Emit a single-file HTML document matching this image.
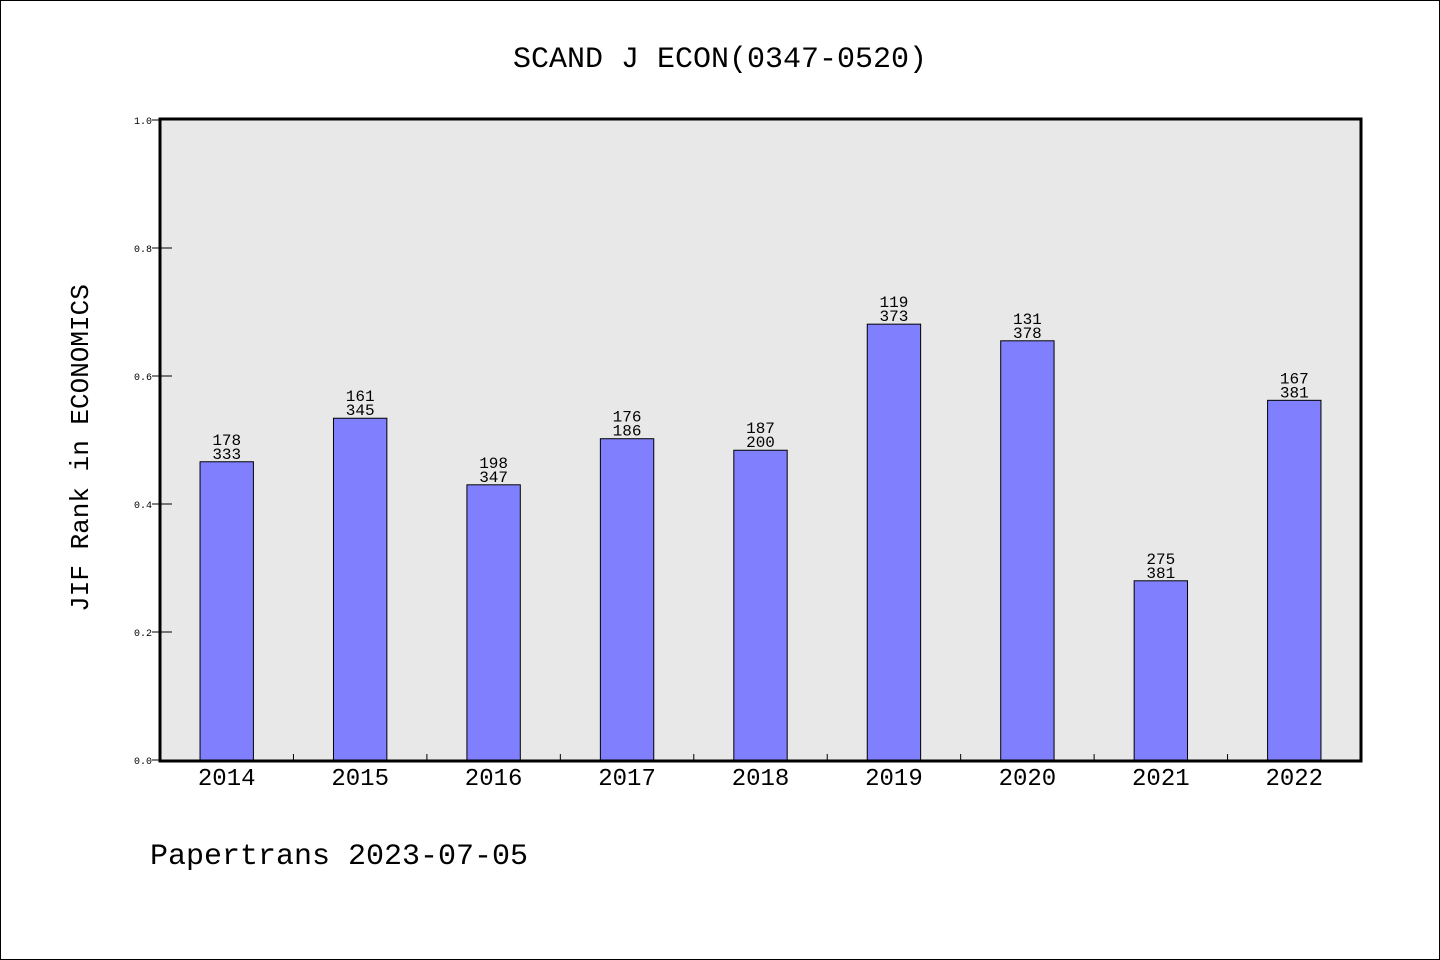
<!DOCTYPE html>
<html><head><meta charset="utf-8"><style>
html,body{margin:0;padding:0;background:#fff}
svg{display:block}
text{font-family:"Liberation Mono","WenQuanYi Zen Hei",monospace;fill:#000}
</style></head><body>
<svg id="chart" width="1440" height="960" xmlns="http://www.w3.org/2000/svg">
<rect x="0.5" y="0.5" width="1439" height="959" fill="#fff" stroke="#000"/>
<text x="720" y="67" font-size="30" text-anchor="middle">SCAND J ECON(0347-0520)</text>
<rect x="160" y="119" width="1201" height="642" fill="#e8e8e8"/>
<g id="bars"></g>
<g id="axes"></g>
<rect x="160" y="119" width="1201" height="642" fill="none" stroke="#000" stroke-width="3"/>
<text transform="translate(88,448) rotate(-90)" font-size="26" text-anchor="middle">JIF Rank in ECONOMICS</text>
<text x="150" y="864" font-size="30">Papertrans 2023-07-05</text>
</svg>
<script>
const years = ["2014","2015","2016","2017","2018","2019","2020","2021","2022"];
const values = [0.466,0.534,0.430,0.502,0.484,0.681,0.655,0.280,0.562];
const ranks = ["178","161","198","176","187","119","131","275","167"];
const totals = ["333","345","347","186","200","373","378","381","381"];
const yTicks = ["0.0","0.2","0.4","0.6","0.8","1.0"];
const NS="http://www.w3.org/2000/svg";
const X0=160,X1=1361,Y0=760,Y1=120;
const slot=(X1-X0)/years.length;
const xc=i=>X0+slot*(i+0.5);
const y=v=>Y0-(Y0-Y1)*v;
function mk(tag,attrs,parent,txt){const e=document.createElementNS(NS,tag);for(const k in attrs)e.setAttribute(k,attrs[k]);if(txt!==undefined)e.textContent=txt;parent.appendChild(e);return e;}
const bars=document.getElementById('bars'),axes=document.getElementById('axes');
const bw=slot*0.4;
years.forEach((yr,i)=>{
  const top=y(values[i]);
  const r=mk('rect',{x:xc(i)-bw/2,y:top,width:bw,height:Y0-top,fill:'#8080ff',stroke:'#000','stroke-width':1},bars);
  
  
  const t1=mk('text',{x:xc(i),y:top-17,'font-size':16,'text-anchor':'middle'},bars,ranks[i]);
  
  
  const t2=mk('text',{x:xc(i),y:top-3,'font-size':16,'text-anchor':'middle'},bars,totals[i]);
  
  
  const xl=mk('text',{x:xc(i),y:785,'font-size':24,'text-anchor':'middle'},axes,yr);
  
  
  if(i>0){
    const tk=mk('line',{x1:X0+slot*i,x2:X0+slot*i,y1:Y0,y2:Y0-6,stroke:'#000'},axes);
    
    
  }
});
yTicks.forEach(t=>{
  const yy=y(parseFloat(t));
  const l=mk('line',{x1:X0-8,x2:X0+12,y1:yy,y2:yy,stroke:'#000'},axes);
  
  
  const tx=mk('text',{x:152,y:yy+4,'font-size':10,'text-anchor':'end'},axes,t);
  
  
});
</script>
</body></html>
